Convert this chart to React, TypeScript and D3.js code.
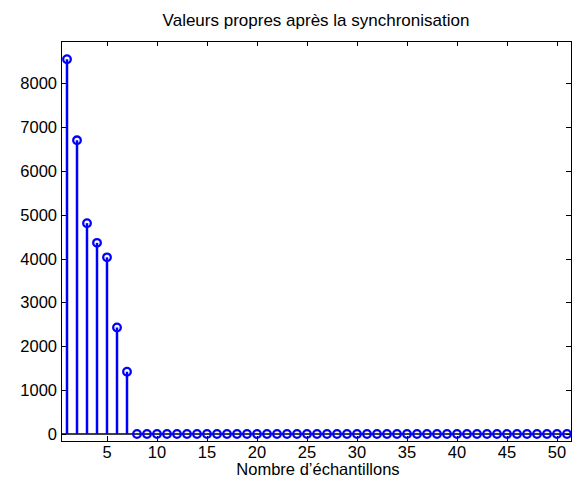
import React, { useRef, useEffect } from 'react';
import * as d3 from 'd3';

const sampleIndex = d3.range(1, 52);
const eigenValues = [8550, 6700, 4810, 4360, 4030, 2430, 1420].concat(new Array(44).fill(0));
const xTicks = [5, 10, 15, 20, 25, 30, 35, 40, 45, 50];
const yTicks = [0, 1000, 2000, 3000, 4000, 5000, 6000, 7000, 8000];

const StemChart = () => {
  const ref = useRef(null);

  useEffect(() => {
    const svg = d3.select(ref.current);
    svg.selectAll('*').remove();
    const left = 61, right = 571, top = 41, bottom = 441;
    const font = 'Liberation Sans, Arial, sans-serif';

    const x = d3.scaleLinear().domain([0.4, 51.4]).range([left, right]);
    const y = d3.scaleLinear().domain([-160, 8965]).range([bottom, top]);

    svg.append('rect')
      .attr('x', 0).attr('y', 0).attr('width', 581).attr('height', 484)
      .attr('fill', '#fff');

    // ticks on all four sides, pointing in
    const g = svg.append('g').attr('stroke', '#000').attr('stroke-width', 1);
    xTicks.forEach((t) => {
      const px = Math.round(x(t)) + 0.5;
      g.append('line').attr('x1', px).attr('x2', px).attr('y1', bottom).attr('y2', bottom - 5);
      g.append('line').attr('x1', px).attr('x2', px).attr('y1', top).attr('y2', top + 5);
    });
    yTicks.forEach((t) => {
      const py = Math.round(y(t)) + 0.5;
      g.append('line').attr('x1', left).attr('x2', left + 5).attr('y1', py).attr('y2', py);
      g.append('line').attr('x1', right).attr('x2', right - 5).attr('y1', py).attr('y2', py);
    });

    svg.selectAll('.xl').data(xTicks).enter().append('text')
      .attr('x', (d) => x(d)).attr('y', 458)
      .attr('text-anchor', 'middle')
      .attr('font-family', font).attr('font-size', 16.5)
      .text((d) => d);

    svg.selectAll('.yl').data(yTicks).enter().append('text')
      .attr('x', left - 4).attr('y', (d) => y(d) + 6)
      .attr('text-anchor', 'end')
      .attr('font-family', font).attr('font-size', 16.5)
      .text((d) => d);

    // baseline
    svg.append('line')
      .attr('x1', left).attr('x2', right)
      .attr('y1', y(0)).attr('y2', y(0))
      .attr('stroke', '#000').attr('stroke-width', 1.5);

    const pts = sampleIndex.map((s, i) => ({ s, v: eigenValues[i] }));
    svg.selectAll('.stem').data(pts).enter().append('line')
      .attr('x1', (d) => x(d.s)).attr('x2', (d) => x(d.s))
      .attr('y1', y(0)).attr('y2', (d) => y(d.v))
      .attr('stroke', '#0000ff').attr('stroke-width', 2.5);

    svg.selectAll('.mk').data(pts).enter().append('circle')
      .attr('cx', (d) => x(d.s)).attr('cy', (d) => y(d.v))
      .attr('r', 3.8)
      .attr('fill', 'none').attr('stroke', '#0000ff').attr('stroke-width', 2.3);

    svg.append('rect')
      .attr('x', left + 0.5).attr('y', top + 0.5)
      .attr('width', right - left).attr('height', bottom - top)
      .attr('fill', 'none').attr('stroke', '#000').attr('stroke-width', 1);

    svg.append('text')
      .attr('x', (left + right) / 2).attr('y', 26)
      .attr('text-anchor', 'middle')
      .attr('font-family', font).attr('font-size', 17)
      .text('Valeurs propres après la synchronisation');

    svg.append('text')
      .attr('x', (left + right) / 2 + 2).attr('y', 475)
      .attr('text-anchor', 'middle')
      .attr('font-family', font).attr('font-size', 16.5)
      .text('Nombre d\u2019échantillons');
  }, []);

  return <svg ref={ref} width="581" height="484" style={{ display: 'block' }}></svg>;
};

export default function App() {
  return (
    <div style={{ margin: -8 }}>
      <StemChart />
    </div>
  );
}
